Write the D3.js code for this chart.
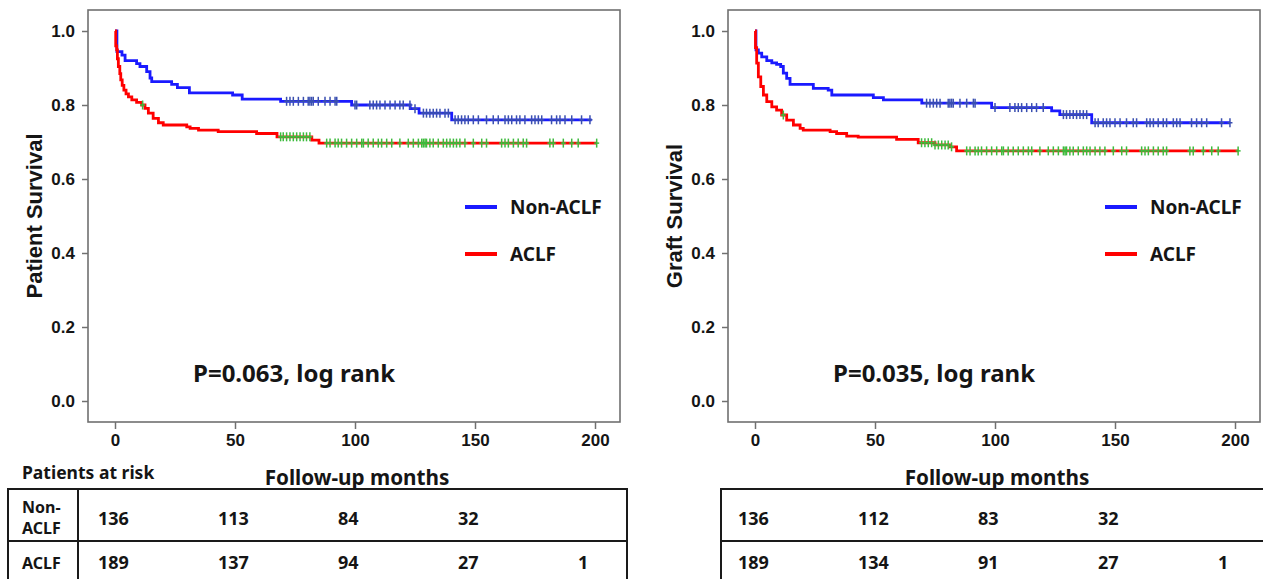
<!doctype html>
<html lang="en">
<head>
<meta charset="utf-8">
<title>Patient and graft survival, ACLF vs non-ACLF</title>
<script src="https://cdn.jsdelivr.net/npm/d3@7"></script>
<style>
  body { margin: 0; background: #fff; }
  svg text { fill: #151515; }
  .num { font-family: "Liberation Sans", Arial, sans-serif; font-weight: bold; font-size: 17px; }
  .title { font-family: "Liberation Sans", Arial, sans-serif; font-weight: bold; font-size: 22px; }
  .lab { font-family: "Noto Sans", sans-serif; font-weight: bold; }
</style>
</head>
<body>
<svg id="chart" width="1263" height="579"></svg>
<script>
// ---- data ----
var monthTicks = [0, 50, 100, 150, 200];
var survTicks = [0, 0.2, 0.4, 0.6, 0.8, 1.0];
var groups = ["Non-ACLF", "ACLF"];

// [month, survival] at each drop
var patientNonAclf = [[0,1],[0.8,0.944],[2.9,0.935],[4.2,0.92],[9.0,0.912],[10.4,0.904],[13.2,0.89],[14.6,0.873],[15.3,0.863],
  [23.6,0.856],[26,0.847],[31,0.833],[49,0.827],[53,0.816],[69,0.81],[98.6,0.80],[123,0.79],[126.7,0.778],[140.3,0.76],[198.6,0.76]];
var patientAclf = [[0,1],[0.3,0.96],[0.7,0.949],[1.0,0.925],[1.4,0.904],[2.0,0.885],[2.4,0.868],[3.0,0.853],[3.7,0.84],[4.6,0.83],
  [5.6,0.822],[7.0,0.814],[9.0,0.807],[11.1,0.80],[12.5,0.791],[13.9,0.778],[15.9,0.764],[18.1,0.752],[20.1,0.746],[29.9,0.741],
  [31.3,0.737],[34.8,0.732],[43,0.728],[59,0.723],[67.5,0.714],[82,0.705],[85,0.697],[200.7,0.697]];
var graftNonAclf = [[0,1],[0.4,0.949],[1.4,0.94],[2.8,0.93],[4.9,0.92],[7,0.914],[9,0.91],[10.7,0.904],[11.8,0.886],[13.2,0.872],
  [14.6,0.856],[24.3,0.845],[30.5,0.84],[32,0.827],[49.3,0.82],[53.5,0.814],[69.5,0.805],[98.6,0.793],[123.6,0.784],[127,0.774],
  [140.3,0.752],[197.9,0.752]];
var graftAclf = [[0,1],[0.2,0.955],[0.7,0.913],[1.4,0.876],[2.4,0.85],[3.5,0.827],[4.9,0.809],[7,0.795],[9,0.786],[11.1,0.773],
  [13.2,0.759],[16,0.746],[18.8,0.737],[20.1,0.732],[31.3,0.728],[34,0.723],[38.2,0.716],[43,0.713],[59,0.707],[68,0.698],
  [75,0.692],[81,0.687],[84,0.676],[201.3,0.676]];

// censored months
var patientNonAclfCens = [71.5,72.9,74.3,76.4,78.5,80.5,81.2,81.9,82.6,84.7,87.5,89.6,91.7,92.4,100,100.7,106.2,107.6,109,110.4,
  112.5,114.6,116.7,118.7,120.1,122.9,125,128.5,129.8,131.2,132.6,134,135.4,137.5,138.9,141.7,143,144.4,145.8,147.2,149.3,151.4,
  154.8,157.6,159.7,162.5,163.9,165.3,167.3,168.7,170.8,173.6,175,176.4,177.8,181.9,184,185.4,187.5,190.3,194.4,197.9];
var patientAclfCens = [11.5,69,70.1,71.5,72.9,74.3,75.7,77.1,78.5,79.8,81.2,88.2,89.6,91.7,93,94.4,96.5,98.6,100.7,102.8,103.5,
  105.5,107.6,109.7,111.1,113.2,115.3,118.7,122.2,124.3,126.4,127.8,128.5,129.2,129.8,131.2,132.6,134.7,136.8,138.2,139.6,141,
  142.3,143.7,145.8,149.3,152.8,154.8,161.1,162.5,163.9,166,168,170.1,171.5,181.2,182.6,186.8,190.3,193,200.7];
var graftNonAclfCens = [71.5,72.9,74.3,75.7,77.1,80.5,81.2,81.9,82.6,85.4,88.2,91,91.7,100,106.2,108.3,109.7,111.1,113.2,115.3,
  117.3,120.1,128.5,129.8,131.2,132.6,134,135.4,136.8,138.2,141.7,143,145.1,146.5,147.9,150,152.1,154.8,157.6,159,163.2,164.6,
  166,168,170.1,171.5,174.3,175.7,177.1,181.9,184,186.1,188.2,194.4,197.9];
var graftAclfCens = [11.8,69.4,70.8,72.2,73.6,75,76.4,77.8,79.2,80.5,81.9,88.2,89.6,91.7,93,94.4,96.5,98.6,100.7,102.8,103.5,
  105.5,107.6,109.7,111.8,113.9,115.3,118.7,122.2,124.3,126.4,128.5,129.2,129.8,131.2,132.6,134.7,136.8,138.2,139.6,141.7,
  143.7,145.8,149.3,152.8,154.8,161.1,162.5,163.9,166,168,170.1,171.5,181.2,182.6,186.8,190.3,193,201.3];

var patientAtRisk = [[136, 113, 84, 32, null], [189, 137, 94, 27, 1]];
var graftAtRisk = [[136, 112, 83, 32, null], [189, 134, 91, 27, 1]];

var svg = d3.select("#chart");

function drawPanel(p) {
  var x = d3.scaleLinear().domain([0, 200]).range([p.left + 27, p.left + 507]);
  var y = d3.scaleLinear().domain([0, 1]).range([401, 31]);
  var g = svg.append("g");

  g.append("rect").attr("x", p.left).attr("y", 10).attr("width", 532).attr("height", 412)
    .attr("fill", "none").attr("stroke", "#707070").attr("stroke-width", 1.6);

  var ya = g.append("g").attr("transform", "translate(" + p.left + ",0)")
    .call(d3.axisLeft(y).tickValues(survTicks).tickFormat(d3.format(".1f")).tickSize(6).tickPadding(7));
  var xa = g.append("g").attr("transform", "translate(0,422)")
    .call(d3.axisBottom(x).tickValues(monthTicks).tickSize(7).tickPadding(5));
  [ya, xa].forEach(function (a) {
    a.select(".domain").remove();
    a.selectAll("line").attr("stroke", "#707070").attr("stroke-width", 1.5);
    a.selectAll("text").attr("class", "num").attr("fill", "#151515");
  });

  g.append("text").attr("class", "title").attr("text-anchor", "middle")
    .attr("transform", "translate(" + (p.left - 54) + ",216) rotate(-90)").attr("dy", "0.35em").text(p.title);

  var line = d3.line().curve(d3.curveStepAfter).x(function (d) { return x(d[0]); }).y(function (d) { return y(d[1]); });
  var bis = d3.bisector(function (d) { return d[0]; }).right;
  var series = [
    { steps: p.curves[0], cens: p.cens[0], color: "#1a1aff", mark: "#3a4fb0" },
    { steps: p.curves[1], cens: p.cens[1], color: "#ff0000", mark: "#3dbb3d" }
  ];
  series.forEach(function (s) {
    g.append("path").datum(s.steps).attr("d", line).attr("fill", "none")
      .attr("stroke", s.color).attr("stroke-width", 2.8);
  });
  series.forEach(function (s) {
    var pts = s.cens.map(function (t) { return [t, s.steps[Math.max(0, bis(s.steps, t) - 1)][1]]; });
    var m = g.append("g").attr("stroke", s.mark).attr("stroke-width", 1.5);
    m.selectAll("line.v").data(pts).join("line").attr("class", "v")
      .attr("x1", function (d) { return x(d[0]); }).attr("x2", function (d) { return x(d[0]); })
      .attr("y1", function (d) { return y(d[1]) - 4.5; }).attr("y2", function (d) { return y(d[1]) + 4.5; });
    m.selectAll("line.h").data(pts).join("line").attr("class", "h")
      .attr("x1", function (d) { return x(d[0]) - 2.5; }).attr("x2", function (d) { return x(d[0]) + 2.5; })
      .attr("y1", function (d) { return y(d[1]); }).attr("y2", function (d) { return y(d[1]); });
  });

  // legend
  var colors = ["#1a1aff", "#ff0000"];
  groups.forEach(function (name, i) {
    var ly = 207 + i * 47;
    g.append("line").attr("x1", p.left + 377).attr("x2", p.left + 409).attr("y1", ly).attr("y2", ly)
      .attr("stroke", colors[i]).attr("stroke-width", 4);
    g.append("text").attr("class", "lab").attr("x", p.left + 422).attr("y", ly).attr("dy", "0.35em")
      .style("font-size", "19px").text(name);
  });

  g.append("text").attr("class", "lab").attr("x", p.left + 105).attr("y", 374).attr("dy", "0.35em")
    .style("font-size", "24px").text(p.pText);

  g.append("text").attr("class", "lab").attr("x", x(100) + 2).attr("y", 478).attr("dy", "0.35em")
    .attr("text-anchor", "middle").style("font-size", "20.7px").text("Follow-up months");

  // at-risk table
  var tb = svg.append("g").attr("stroke", "#1a1a1a").attr("stroke-width", 2).attr("fill", "none");
  tb.append("rect").attr("x", p.tableLeft).attr("y", 489).attr("width", p.tableRight - p.tableLeft).attr("height", 120);
  tb.append("line").attr("x1", p.tableLeft).attr("x2", p.tableRight).attr("y1", 541).attr("y2", 541);
  if (p.rowLabels) {
    tb.append("line").attr("x1", 78).attr("x2", 78).attr("y1", 489).attr("y2", 579);
    svg.append("text").attr("class", "lab").attr("x", 22).attr("y", 473).attr("dy", "0.35em")
      .style("font-size", "17.5px").text("Patients at risk");
    var t1 = svg.append("text").attr("class", "lab").style("font-size", "16px");
    t1.append("tspan").attr("x", 22).attr("y", 513).text("Non-");
    t1.append("tspan").attr("x", 22).attr("y", 534).text("ACLF");
    svg.append("text").attr("class", "lab").attr("x", 22).attr("y", 563).attr("dy", "0.35em")
      .style("font-size", "16px").text("ACLF");
  }
  p.atRisk.forEach(function (row, r) {
    row.forEach(function (v, i) {
      if (v === null) return;
      svg.append("text").attr("class", "lab").attr("x", x(monthTicks[i]) - 17).attr("y", r ? 563 : 519)
        .attr("dy", "0.35em").style("font-size", "18px").text(v);
    });
  });
}

drawPanel({ left: 88, title: "Patient Survival", pText: "P=0.063, log rank",
  curves: [patientNonAclf, patientAclf], cens: [patientNonAclfCens, patientAclfCens],
  atRisk: patientAtRisk, tableLeft: 8, tableRight: 627, rowLabels: true });
drawPanel({ left: 728, title: "Graft Survival", pText: "P=0.035, log rank",
  curves: [graftNonAclf, graftAclf], cens: [graftNonAclfCens, graftAclfCens],
  atRisk: graftAtRisk, tableLeft: 721, tableRight: 1275, rowLabels: false });
</script>
</body>
</html>
